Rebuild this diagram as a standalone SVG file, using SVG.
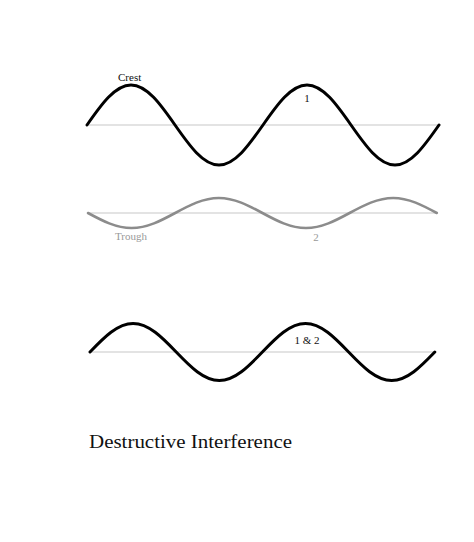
<svg xmlns="http://www.w3.org/2000/svg" width="474" height="542" viewBox="0 0 474 542">
<style>
.base{stroke:#c8c8c8;stroke-width:1.2;fill:none}
.wk{stroke:#000;stroke-width:3;fill:none;stroke-linecap:round}
.wg{stroke:#8c8c8c;stroke-width:2.6;fill:none;stroke-linecap:round}
.lbl{font-family:"Liberation Serif",serif;font-size:11px;fill:#111}
.lblg{font-family:"Liberation Serif",serif;font-size:11px;fill:#999}
.title{font-family:"Liberation Serif",serif;font-size:18.5px;fill:#111}
</style>
<rect width="474" height="542" fill="#fff"/>
<g id="wave1">
<line class="base" x1="87" y1="125" x2="439" y2="125"/>
<path class="wk" d="M87,125 c14.35,-20.49 28.08,-40 44,-40 c15.92,0 29.65,19.51 44,40 c14.35,20.49 28.08,40 44,40 c15.92,0 29.65,-19.51 44,-40 c14.35,-20.49 28.08,-40 44,-40 c15.92,0 29.65,19.51 44,40 c14.35,20.49 28.08,40 44,40 c15.92,0 29.65,-19.51 44,-40"/>
<text class="lbl" x="118" y="81">Crest</text>
<text class="lbl" x="307" y="102" text-anchor="middle">1</text>
</g>
<g id="wave2">
<line class="base" x1="88" y1="213" x2="437" y2="213"/>
<path class="wg" d="M88,213 c14.22,7.68 27.83,15 43.6,15 c15.77,0 29.38,-7.32 43.6,-15 c14.22,-7.68 27.83,-15 43.6,-15 c15.77,0 29.38,7.32 43.6,15 c14.22,7.68 27.83,15 43.6,15 c15.77,0 29.38,-7.32 43.6,-15 c14.22,-7.68 27.83,-15 43.6,-15 c15.77,0 29.38,7.32 43.6,15"/>
<text class="lblg" x="115" y="240">Trough</text>
<text class="lblg" x="316" y="241" text-anchor="middle">2</text>
</g>
<g id="wave3">
<line class="base" x1="90" y1="352" x2="435" y2="352"/>
<path class="wk" d="M90,352 c14.06,-14.6 27.51,-28.5 43.1,-28.5 c15.59,0 29.04,13.9 43.1,28.5 c14.06,14.6 27.51,28.5 43.1,28.5 c15.59,0 29.04,-13.9 43.1,-28.5 c14.06,-14.6 27.51,-28.5 43.1,-28.5 c15.59,0 29.04,13.9 43.1,28.5 c14.06,14.6 27.51,28.5 43.1,28.5 c15.59,0 29.04,-13.9 43.1,-28.5"/>
<text class="lbl" x="307" y="344" text-anchor="middle">1 &amp; 2</text>
</g>
<g id="title">
<text class="title" x="89" y="448" textLength="203" lengthAdjust="spacingAndGlyphs">Destructive Interference</text>
</g>
</svg>
